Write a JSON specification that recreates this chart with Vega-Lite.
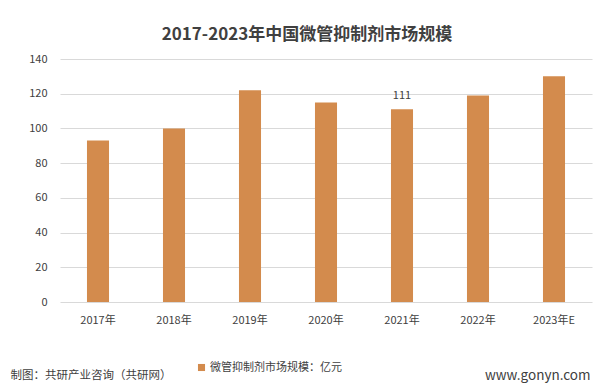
{
  "$schema": "https://vega.github.io/schema/vega-lite/v6.json",
  "width": 532,
  "height": 243,
  "autosize": {"type": "none"},
  "padding": {"left": 60, "top": 59, "right": 23, "bottom": 90},
  "background": "white",
  "config": {
    "font": "Noto Sans CJK SC",
    "view": {"stroke": null}
  },
  "title": {
    "text": "2017-2023年中国微管抑制剂市场规模",
    "fontSize": 17,
    "font": "Noto Sans CJK SC",
    "fontWeight": "bold",
    "color": "#404040",
    "anchor": "middle",
    "dx": -19,
    "offset": 9
  },
  "data": {
    "values": [
      {"year": "2017年", "value": 93, "label": ""},
      {"year": "2018年", "value": 100, "label": ""},
      {"year": "2019年", "value": 122, "label": ""},
      {"year": "2020年", "value": 115, "label": ""},
      {"year": "2021年", "value": 111, "label": "111"},
      {"year": "2022年", "value": 119, "label": ""},
      {"year": "2023年E", "value": 130, "label": ""}
    ]
  },
  "encoding": {
    "x": {
      "field": "year",
      "type": "nominal",
      "sort": null,
      "scale": {"paddingInner": 0.71, "paddingOuter": 0.355},
      "axis": {
        "title": "制图：共研产业咨询（共研网）",
        "titleX": -50,
        "titleY": 73,
        "titleAlign": "left",
        "titleBaseline": "middle",
        "titleFontSize": 11.5,
        "titleFontWeight": "normal",
        "titleColor": "#404040",
        "labelAngle": 0,
        "labelFontSize": 11,
        "labelColor": "#404040",
        "labelPadding": 12,
        "domain": false,
        "ticks": false
      }
    },
    "y": {
      "field": "value",
      "type": "quantitative",
      "scale": {"domain": [0, 140]},
      "axis": {
        "values": [0, 20, 40, 60, 80, 100, 120, 140],
        "title": "www.gonyn.com",
        "titleAngle": 0,
        "titleX": 530,
        "titleY": 316,
        "titleAlign": "right",
        "titleBaseline": "middle",
        "titleFontSize": 13.5,
        "titleFontWeight": "normal",
        "titleColor": "#404040",
        "labelFontSize": 11,
        "labelColor": "#404040",
        "labelPadding": 13,
        "domain": false,
        "ticks": false,
        "gridColor": "#d9d9d9"
      }
    }
  },
  "layer": [
    {
      "mark": {"type": "bar", "color": "#D38B4D"},
      "encoding": {
        "color": {
          "datum": "微管抑制剂市场规模：亿元",
          "scale": {"range": ["#D38B4D"]},
          "legend": {
            "title": null,
            "orient": "none",
            "legendX": 136,
            "legendY": 303,
            "symbolType": "square",
            "symbolSize": 50,
            "labelFontSize": 11,
            "labelColor": "#404040",
            "labelOffset": 3
          }
        }
      }
    },
    {
      "mark": {"type": "text", "dy": -13, "fontSize": 11, "color": "#404040"},
      "encoding": {"text": {"field": "label"}}
    }
  ]
}
